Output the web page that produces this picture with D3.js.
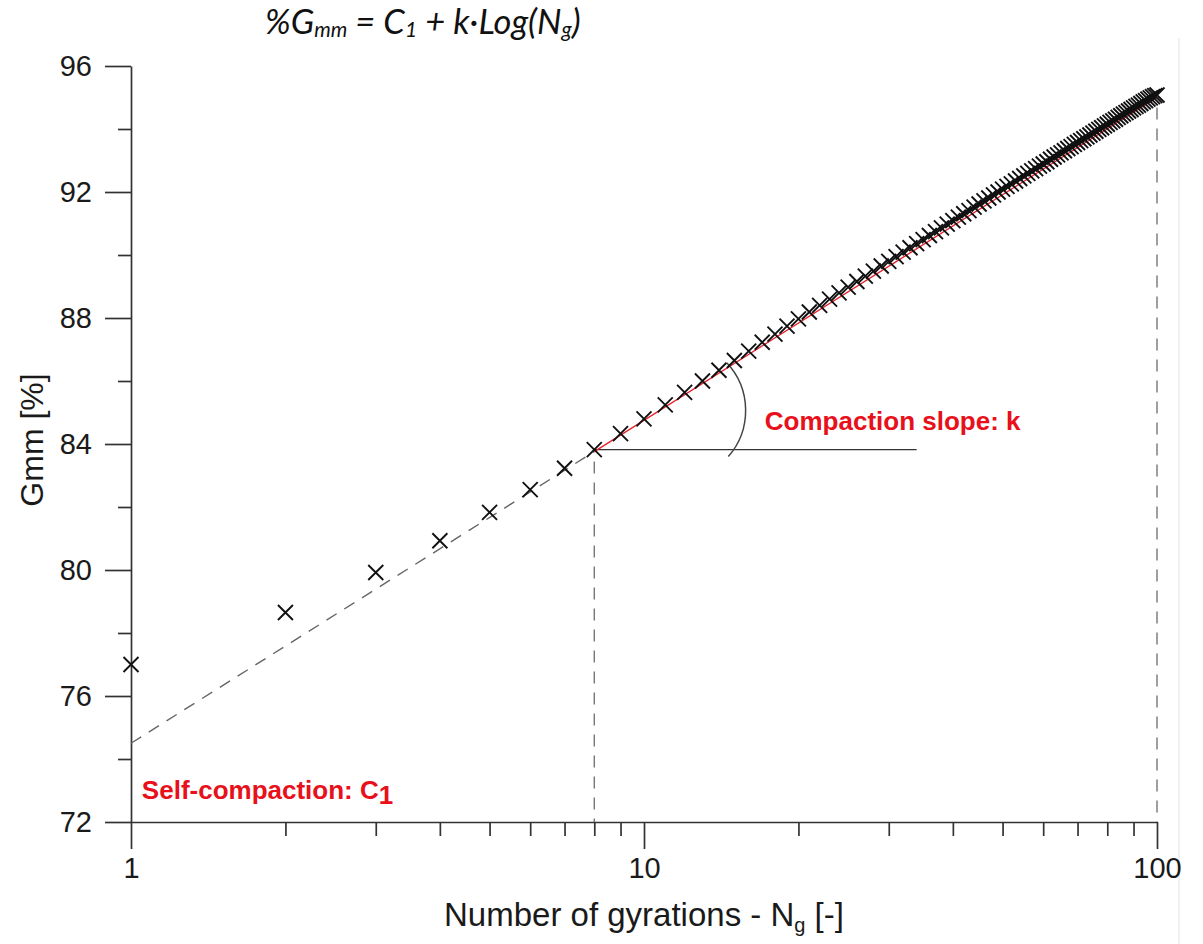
<!DOCTYPE html>
<html>
<head>
<meta charset="utf-8">
<script src="https://cdn.jsdelivr.net/npm/d3@7"></script>
<style>
  html, body { margin: 0; padding: 0; background: #fff; }
  svg { display: block; }
</style>
</head>
<body>
<svg id="chart" width="1203" height="944"></svg>
<script>
// Gyratory compaction curve: %Gmm against number of gyrations (log scale)
const gyrations = [
  1, 2, 3, 4, 5, 6, 7, 8, 9, 10,
  11, 12, 13, 14, 15, 16, 17, 18, 19, 20,
  21, 22, 23, 24, 25, 26, 27, 28, 29, 30,
  31, 32, 33, 34, 35, 36, 37, 38, 39, 40,
  41, 42, 43, 44, 45, 46, 47, 48, 49, 50,
  51, 52, 53, 54, 55, 56, 57, 58, 59, 60,
  61, 62, 63, 64, 65, 66, 67, 68, 69, 70,
  71, 72, 73, 74, 75, 76, 77, 78, 79, 80,
  81, 82, 83, 84, 85, 86, 87, 88, 89, 90,
  91, 92, 93, 94, 95, 96, 97, 98, 99, 100
];
const gmm = [
  77.00, 78.65, 79.92, 80.93, 81.83, 82.55, 83.23, 83.82, 84.33, 84.80,
  85.24, 85.64, 86.00, 86.34, 86.65, 86.95, 87.23, 87.49, 87.74, 87.97,
  88.19, 88.40, 88.60, 88.80, 88.98, 89.16, 89.33, 89.49, 89.65, 89.80,
  89.95, 90.09, 90.23, 90.36, 90.49, 90.62, 90.74, 90.86, 90.98, 91.09,
  91.20, 91.31, 91.41, 91.52, 91.62, 91.72, 91.81, 91.91, 92.00, 92.09,
  92.18, 92.26, 92.35, 92.43, 92.51, 92.59, 92.67, 92.74, 92.82, 92.89,
  92.96, 93.04, 93.11, 93.18, 93.24, 93.31, 93.38, 93.44, 93.51, 93.57,
  93.63, 93.69, 93.75, 93.81, 93.87, 93.93, 93.99, 94.04, 94.10, 94.15,
  94.21, 94.26, 94.31, 94.37, 94.42, 94.47, 94.52, 94.57, 94.62, 94.67,
  94.72, 94.76, 94.81, 94.86, 94.90, 94.95, 94.99, 95.03, 95.06, 95.08
];

// Fitted line %Gmm = C1 + k·Log(Ng): dashed extrapolation 1→8, red fit 8→100
const fitN = [1, 8, 100];
const fitG = [74.5, 83.76, 95.0];

const yMajorTicks = [72, 76, 80, 84, 88, 92, 96];
const yMinorTicks = [74, 78, 82, 86, 90, 94];
const xMajorTicks = [1, 10, 100];
const xMinorTicks = [2, 3, 4, 5, 6, 7, 8, 9, 20, 30, 40, 50, 60, 70, 80, 90];
const xTickLabels = ["1", "10", "100"];

const W = 1203, H = 944;
const margin = { top: 66, right: 46, bottom: 122, left: 131 };
const svg = d3.select("#chart");
const FONT = "'Liberation Sans', Arial, sans-serif";
const AXIS = "#333";

const x = d3.scaleLog().domain([1, 100]).range([margin.left, W - margin.right]);
const y = d3.scaleLinear().domain([72, 96]).range([H - margin.bottom, margin.top]);

// light frame edge on the right
svg.append("line")
  .attr("x1", 1179).attr("x2", 1179).attr("y1", 38).attr("y2", H)
  .attr("stroke", "#e2e2e2").attr("stroke-width", 1);

// ---- axes ----
function styleAxis(g) {
  g.selectAll("path, line").attr("stroke", AXIS).attr("stroke-width", 1.7);
  g.selectAll("text").attr("fill", "#1a1a1a").style("font-family", FONT);
}

const yMinor = svg.append("g").attr("transform", `translate(${margin.left},0)`)
  .call(d3.axisLeft(y).tickValues(yMinorTicks).tickSize(13).tickSizeOuter(0).tickFormat(""));
yMinor.select(".domain").remove();
styleAxis(yMinor);

const yMajor = svg.append("g").attr("transform", `translate(${margin.left},0)`)
  .call(d3.axisLeft(y).tickValues(yMajorTicks).tickSize(26).tickSizeOuter(0).tickPadding(13)
    .tickFormat(d3.format("d")));
styleAxis(yMajor);
yMajor.selectAll("text").style("font-size", "29px");

const xMinor = svg.append("g").attr("transform", `translate(0,${y(72)})`)
  .call(d3.axisBottom(x).tickValues(xMinorTicks).tickSize(14).tickSizeOuter(0).tickFormat(""));
xMinor.select(".domain").remove();
styleAxis(xMinor);

const xMajor = svg.append("g").attr("transform", `translate(0,${y(72)})`)
  .call(d3.axisBottom(x).tickValues(xMajorTicks).tickSize(27).tickSizeOuter(0).tickPadding(8)
    .tickFormat((d, i) => xTickLabels[i]));
styleAxis(xMajor);
xMajor.selectAll("text").style("font-size", "29px");

// ---- axis titles ----
const xt = svg.append("text")
  .attr("x", x(10)).attr("y", 926)
  .attr("text-anchor", "middle")
  .style("font-family", FONT).style("font-size", "33px").attr("fill", "#1a1a1a");
xt.append("tspan").text("Number of gyrations - N");
xt.append("tspan").text("g").style("font-size", "20px").attr("dy", 6);
xt.append("tspan").text(" [-]").attr("dy", -6);

svg.append("text")
  .attr("transform", `translate(43,${(y(88) + y(80)) / 2 - 4}) rotate(-90)`)
  .attr("text-anchor", "middle")
  .style("font-family", FONT).style("font-size", "32px").attr("fill", "#1a1a1a")
  .text("Gmm [%]");

// ---- equation title ----
const eq = svg.append("text")
  .attr("x", 265).attr("y", 34)
  .style("font-family", "Lato, 'Open Sans', sans-serif").style("font-style", "italic")
  .style("font-size", "34.5px").attr("fill", "#111");
eq.append("tspan").text("%G");
eq.append("tspan").text("mm").style("font-size", "21px").attr("dy", 3);
eq.append("tspan").text(" = C").attr("dy", -3);
eq.append("tspan").text("1").style("font-size", "21px").attr("dy", 3);
eq.append("tspan").text(" + k·Log(N").attr("dy", -3);
eq.append("tspan").text("g").style("font-size", "21px").attr("dy", 3);
eq.append("tspan").text(")").attr("dy", -3);

// ---- guide lines ----
const DASH = "12,9";
// vertical dashed drops at N=8 and N=100
svg.append("line")
  .attr("x1", x(8)).attr("x2", x(8)).attr("y1", y(fitG[1]) + 10).attr("y2", y(72))
  .attr("stroke", "#777").attr("stroke-width", 1.4).attr("stroke-dasharray", DASH);
svg.append("line")
  .attr("x1", x(100)).attr("x2", x(100)).attr("y1", y(fitG[2]) + 10).attr("y2", y(72))
  .attr("stroke", "#777").attr("stroke-width", 1.4).attr("stroke-dasharray", DASH);

// horizontal reference from N=8
svg.append("line")
  .attr("x1", x(8)).attr("x2", x(34)).attr("y1", y(gmm[7])).attr("y2", y(gmm[7]))
  .attr("stroke", "#333").attr("stroke-width", 1.4);

// dashed extrapolation down to N=1
const line = d3.line().x(d => x(d[0])).y(d => y(d[1]));
svg.append("path")
  .attr("d", line([[fitN[0], fitG[0]], [fitN[1], fitG[1]]]))
  .attr("fill", "none").attr("stroke", "#666").attr("stroke-width", 1.4)
  .attr("stroke-dasharray", DASH);

// red fitted line
svg.append("path")
  .attr("d", line([[fitN[1], fitG[1]], [fitN[2], fitG[2]]]))
  .attr("fill", "none").attr("stroke", "#e8202a").attr("stroke-width", 1.4);

// angle arc marking the slope
const arcTop = [14.5, 86.58], arcBot = [14.6, 83.6];
svg.append("path")
  .attr("d", `M${x(arcTop[0])},${y(arcTop[1])} A70,70 0 0 1 ${x(arcBot[0])},${y(arcBot[1])}`)
  .attr("fill", "none").attr("stroke", "#444").attr("stroke-width", 1.5);

// ---- data markers ----
const s = 7.5;
svg.append("g").selectAll("path")
  .data(gyrations.map((n, i) => [n, gmm[i]]))
  .join("path")
  .attr("d", d => {
    const cx = x(d[0]), cy = y(d[1]);
    return `M${cx - s},${cy - s}L${cx + s},${cy + s}M${cx - s},${cy + s}L${cx + s},${cy - s}`;
  })
  .attr("stroke", "#111").attr("stroke-width", 1.9).attr("fill", "none");

// ---- annotations ----
svg.append("text")
  .attr("x", x(17.2)).attr("y", y(84.45))
  .style("font-family", FONT).style("font-weight", "bold").style("font-size", "26px")
  .attr("fill", "#e8101a").text("Compaction slope: k");

const sc = svg.append("text")
  .attr("x", x(1.05)).attr("y", y(72.72))
  .style("font-family", FONT).style("font-weight", "bold").style("font-size", "26px")
  .attr("fill", "#e8101a");
sc.append("tspan").text("Self-compaction: C");
sc.append("tspan").text("1").attr("dy", 5);
</script>
</body>
</html>
